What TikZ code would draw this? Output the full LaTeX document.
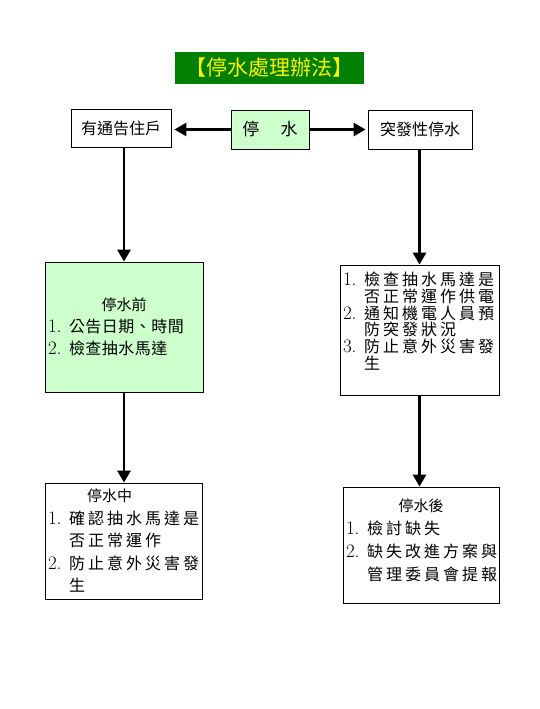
\documentclass[tikz,border=0pt]{standalone}
\usepackage{fontspec}
\usetikzlibrary{arrows.meta}
\newfontfamily\cjk[LetterSpace=3]{Noto Sans CJK TC}
\newfontfamily\cjkwide[LetterSpace=19]{Noto Sans CJK TC}
\newfontfamily\cjkplain{Noto Sans CJK TC}
\definecolor{titlegreen}{RGB}{0,128,0}
\definecolor{lightgreen}{RGB}{204,255,204}
\newcommand\itemno[1]{\makebox[21pt][l]{\normalfont\fontsize{19}{19}\selectfont #1.}}
\newcommand\contd{\hspace*{21pt}}

\begin{document}
\begin{tikzpicture}[x=1pt, y=-1pt,
    box/.style={draw, line width=0.8pt, inner sep=0pt},
    textbox/.style={draw, line width=0.8pt, inner xsep=3pt, inner ysep=0pt, align=left},
    arr/.style={line width=2.8pt, -{Triangle[length=12pt, width=13pt]}}]
    \useasboundingbox (0,0) rectangle (540,709);

    % 標題
    \node[box, draw=none, fill=titlegreen, text=yellow, minimum width=189pt, minimum height=32pt,
          font=\cjkplain\fontsize{21}{21}\selectfont] (title) at (269.5,68) {【停水處理辦法】};

    % 第一層
    \node[box, fill=lightgreen, minimum width=78pt, minimum height=39pt,
          font=\cjkplain\fontsize{17}{17}\selectfont] (water) at (270,129.5) {停\hspace{1.25em}水};
    \node[box, minimum width=100pt, minimum height=38pt,
          font=\cjkplain\fontsize{16}{16}\selectfont] (notice) at (121,128) {有通告住戶};
    \node[box, minimum width=104pt, minimum height=39pt,
          font=\cjkplain\fontsize{16}{16}\selectfont] (sudden) at (420,129.5) {突發性停水};

    % 第二層
    \node[textbox, fill=lightgreen, text width=152pt, minimum height=130pt,
          font=\cjk\fontsize{16}{22}\selectfont] (before) at (124,327) {%
        \hfill{\cjkplain\fontsize{15}{22}\selectfont 停水前}\hfill\null\\
        \itemno{1}公告日期、時間\\
        \itemno{2}檢查抽水馬達};
    \node[textbox, text width=153pt, minimum height=130pt,
          font=\cjkwide\fontsize{16}{16.7}\selectfont] (check) at (419.5,330) {%
        \itemno{1}檢查抽水馬達是\\
        \contd 否正常運作供電\\
        \itemno{2}通知機電人員預\\
        \contd 防突發狀況\\
        \itemno{3}防止意外災害發\\
        \contd 生\\[2pt]\hbox{}};

    % 第三層
    \node[textbox, text width=151pt, minimum height=116pt,
          font=\cjkwide\fontsize{16}{22.5}\selectfont] (during) at (123.5,541) {%
        \hspace*{39pt}{\cjkplain\fontsize{15}{22.5}\selectfont 停水中}\\
        \itemno{1}確認抽水馬達是\\
        \contd 否正常運作\\
        \itemno{2}防止意外災害發\\
        \contd 生};
    \node[textbox, text width=150pt, minimum height=116pt,
          font=\cjkwide\fontsize{16}{23}\selectfont] (after) at (421,545) {%
        \hfill{\cjkplain\fontsize{15}{23}\selectfont 停水後}\hfill\null\\
        \itemno{1}檢討缺失\\
        \itemno{2}缺失改進方案與\\
        \contd 管理委員會提報\\[-13pt]\hbox{}};

    % 箭頭
    \draw[arr, shorten >=3pt] (water.west) -- (water.west -| notice.east);
    \draw[arr, shorten >=2pt] (water.east) -- (water.east -| sudden.west);
    \draw[arr] (notice.south -| before.north) -- (before.north);
    \draw[arr] (sudden.south -| check.north) -- (check.north);
    \draw[arr] (before.south) -- (before.south |- during.north);
    \draw[arr] (check.south) -- (check.south |- after.north);
\end{tikzpicture}
\end{document}
